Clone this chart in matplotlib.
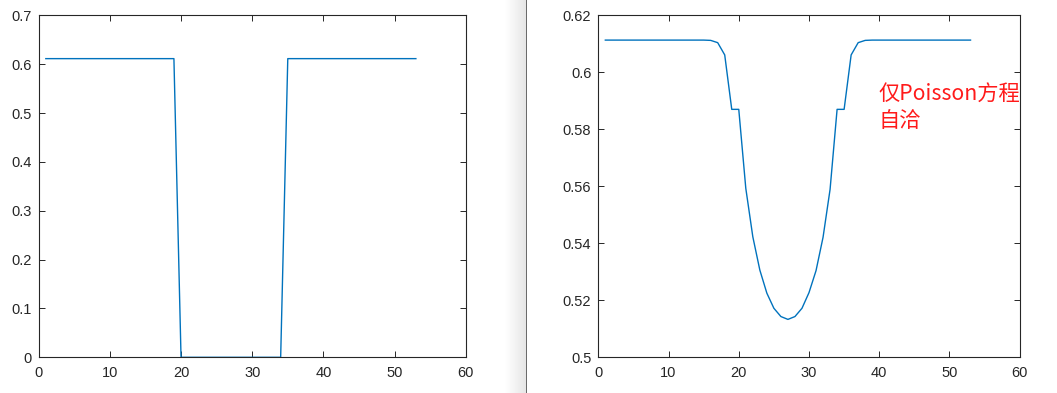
import numpy as np
import matplotlib
matplotlib.use("Agg")
import matplotlib.pyplot as plt

# Left panel data
x_left = list(range(1, 54))
y_left = [0.6113] * 19 + [0.0] * 15 + [0.6113] * 19

# Right panel data
x_right = list(range(1, 54))
y_right = ([0.6113] * 15 +
           [0.6112, 0.6104, 0.6061, 0.5870, 0.5870,
            0.5593, 0.5423, 0.5306, 0.5225, 0.5172, 0.5143, 0.5133,
            0.5143, 0.5172, 0.5227, 0.5304, 0.5421, 0.5589,
            0.5870, 0.5870, 0.6061, 0.6104, 0.6112] +
           [0.6113] * 15)

left_yticks = [0, 0.1, 0.2, 0.3, 0.4, 0.5, 0.6, 0.7]
left_yticklabels = ["0", "0.1", "0.2", "0.3", "0.4", "0.5", "0.6", "0.7"]
right_yticks = [0.5, 0.52, 0.54, 0.56, 0.58, 0.6, 0.62]
right_yticklabels = ["0.5", "0.52", "0.54", "0.56", "0.58", "0.6", "0.62"]
xticks = [0, 10, 20, 30, 40, 50, 60]
annotation = "仅Poisson方程\n自洽"

W, H = 1057, 393
fig = plt.figure(figsize=(W / 100, H / 100), dpi=100)
fig.patch.set_facecolor("white")

line_color = "#0072BD"
txt_color = "#262626"

def px_axes(x0, x1, y0, y1):
    return fig.add_axes([x0 / W, 1 - y1 / H, (x1 - x0) / W, (y1 - y0) / H])

def style(ax):
    for s in ax.spines.values():
        s.set_color(txt_color)
        s.set_linewidth(0.8)
    ax.tick_params(direction="in", top=True, right=True, length=4, width=0.7,
                   colors=txt_color, labelsize=10.5)
    ax.tick_params(axis="x", pad=6)
    ax.tick_params(axis="y", pad=5)
    for lab in ax.get_xticklabels() + ax.get_yticklabels():
        lab.set_family("Liberation Sans")

ax1 = px_axes(38.7, 465.7, 15.3, 357.3)
ax1.plot(x_left, y_left, color=line_color, lw=1.0)
ax1.set_xlim(0, 60)
ax1.set_ylim(0, 0.7)
ax1.set_xticks(xticks)
ax1.set_yticks(left_yticks)
ax1.set_yticklabels(left_yticklabels)
style(ax1)

ax2 = px_axes(598.3, 1019.7, 15.3, 357.3)
ax2.plot(x_right, y_right, color=line_color, lw=1.0)
ax2.set_xlim(0, 60)
ax2.set_ylim(0.5, 0.62)
ax2.set_xticks(xticks)
ax2.set_yticks(right_yticks)
ax2.set_yticklabels(right_yticklabels)
style(ax2)
ax2.text(39.9, 0.5876, annotation, color="#ff1a1a", fontsize=15.3,
         family=["Noto Sans CJK SC", "DejaVu Sans"], va="center", ha="left",
         linespacing=1.25)

# separator gradient
gax = px_axes(505, 526, 0, H)
grad = np.linspace(1.0, 0.90, 64).reshape(1, -1)
gax.imshow(grad, cmap="gray", vmin=0, vmax=1, aspect="auto",
           extent=[0, 1, 0, 1])
gax.set_axis_off()
lax = px_axes(525.5, 527, 0, H)
lax.set_facecolor("#6a6a6a")
lax.set_xticks([]); lax.set_yticks([])
for s in lax.spines.values():
    s.set_visible(False)

fig.savefig("out.png", dpi=100)
